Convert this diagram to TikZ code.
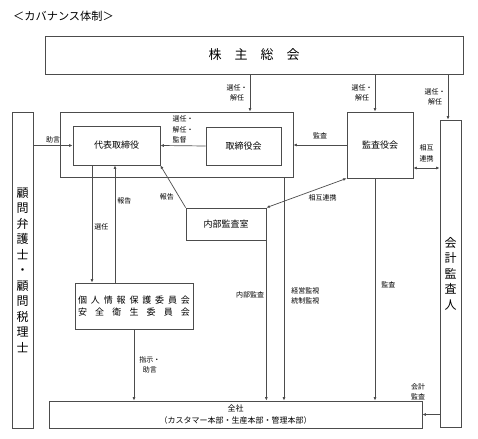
\documentclass[tikz,border=0pt]{standalone}
\usepackage{fontspec}
\setmainfont{Noto Sans CJK JP}
\usetikzlibrary{arrows.meta}
\tikzset{box/.style={draw=black!70, line width=0.7pt, inner sep=0pt, align=center,
           font=\fontsize{9}{11}\selectfont},
         vbox/.style={box, font=\fontsize{12}{15.5}\selectfont},
         lbl/.style={inner sep=2pt, align=center, font=\fontsize{7}{10.5}\selectfont},
         conn/.style={draw=black!70, line width=0.7pt},
         >={Latex[length=3.5pt,width=3pt]}}

\begin{document}
\begin{tikzpicture}[x=1pt,y=-1pt]
\useasboundingbox (0,0) rectangle (478,438);
\node[anchor=west, inner sep=0pt, font=\fontsize{11.2}{13}\selectfont] (title) at (13,16) {＜カバナンス体制＞};

\node[box, minimum width=418, minimum height=38, font=\fontsize{13}{15}\selectfont] (kabu) at (254,55)
  {株\hspace{13pt}主\hspace{13pt}総\hspace{13pt}会};
\node[box, minimum width=233, minimum height=65] (board) at (176.5,144.5) {};
\node[box, minimum width=87, minimum height=39] (daihyo) at (116.5,145.5) {代表取締役};
\node[box, minimum width=75, minimum height=38] (torikai) at (243.5,146) {取締役会};
\node[box, minimum width=66, minimum height=66] (kansa) at (380,145) {監査役会};
\node[vbox, minimum width=21, minimum height=307] (kaikei) at (450.5,273.5) {会\\計\\監\\査\\人};
\node[vbox, minimum width=21, minimum height=316] (komon) at (22.5,270)
  {顧\\問\\弁\\護\\士\\・\\顧\\問\\税\\理\\士};
\node[box, minimum width=80, minimum height=32] (naibu) at (226,224) {内部監査室};
\node[box, minimum width=118, minimum height=46, font=\fontsize{9}{12.5}\selectfont] (iinkai) at (134,306)
  {\makebox[112pt][s]{個\hfill 人\hfill 情\hfill 報\hfill 保\hfill 護\hfill 委\hfill 員\hfill 会}\\
   \makebox[112pt][s]{安\hfill 全\hfill 衛\hfill 生\hfill 委\hfill 員\hfill 会}};
\node[box, minimum width=373, minimum height=27, font=\fontsize{8}{12}\selectfont] (zensha) at (235.5,414.5)
  {全社\\（カスタマー本部・生産本部・管理本部）};

\coordinate (c1) at (250,0);
\coordinate (c2) at (375,0);
\coordinate (c3) at (448,0);
\coordinate (c4) at (92,0);
\coordinate (c5) at (115,0);
\coordinate (c6) at (284,0);
\coordinate (r1) at (0,168);

\draw[conn,->] (kabu.south -| c1) -- node[lbl, left] {選任・\\解任} (board.north -| c1);
\draw[conn,->] (kabu.south -| c2) -- node[lbl, left] {選任・\\解任} (kansa.north -| c2);
\draw[conn,->] (kabu.south -| c3) -- node[lbl, left] {選任・\\解任} (kaikei.north -| c3);
\draw[conn,->] (komon.east |- daihyo.west) -- node[lbl, above] {助言} (daihyo.west);
\draw[conn,->] (torikai.west) -- node[lbl, above, align=left] {選任・\\解任・\\監督} (daihyo.east);
\draw[conn,->] (kansa.west) -- node[lbl, above=4pt] {監査} (board.east |- kansa.west);
\draw[conn,<->] (kansa.east |- r1) -- node[lbl, above=4pt] {相互\\連携} (kaikei.west |- r1);
\draw[conn,->] (naibu.north west) -- node[lbl, pos=0.25, left=3pt] {報告} (daihyo.south east);
\draw[conn,<->] (naibu.north east) -- node[lbl, pos=0.7, below=5pt] {相互連携} (kansa.south west);
\draw[conn,->] (daihyo.south -| c4) -- node[lbl, pos=0.52, right=0pt] {選任} (iinkai.north -| c4);
\draw[conn,->] (iinkai.north -| c5) -- node[lbl, pos=0.7, right=0pt] {報告} (daihyo.south -| c5);
\draw[conn,->] (iinkai.south) -- node[lbl, right=3pt] {指示・\\助言} (zensha.north -| iinkai.south);
\draw[conn,->] (naibu.south east) -- node[lbl, pos=0.34, left] {内部監査} (zensha.north -| naibu.south east);
\draw[conn,->] (board.south -| c6) -- node[lbl, pos=0.53, right=5pt, align=left] {経営監視\\統制監視} (zensha.north -| c6);
\draw[conn,->] (kansa.south -| c2) -- node[lbl, pos=0.48, right=4pt] {監査} (zensha.north -| c2);
\draw[conn,->] (kaikei.west |- zensha.east) -- node[lbl, above=12pt, xshift=-13pt] {会計\\監査} (zensha.east);
\end{tikzpicture}
\end{document}
